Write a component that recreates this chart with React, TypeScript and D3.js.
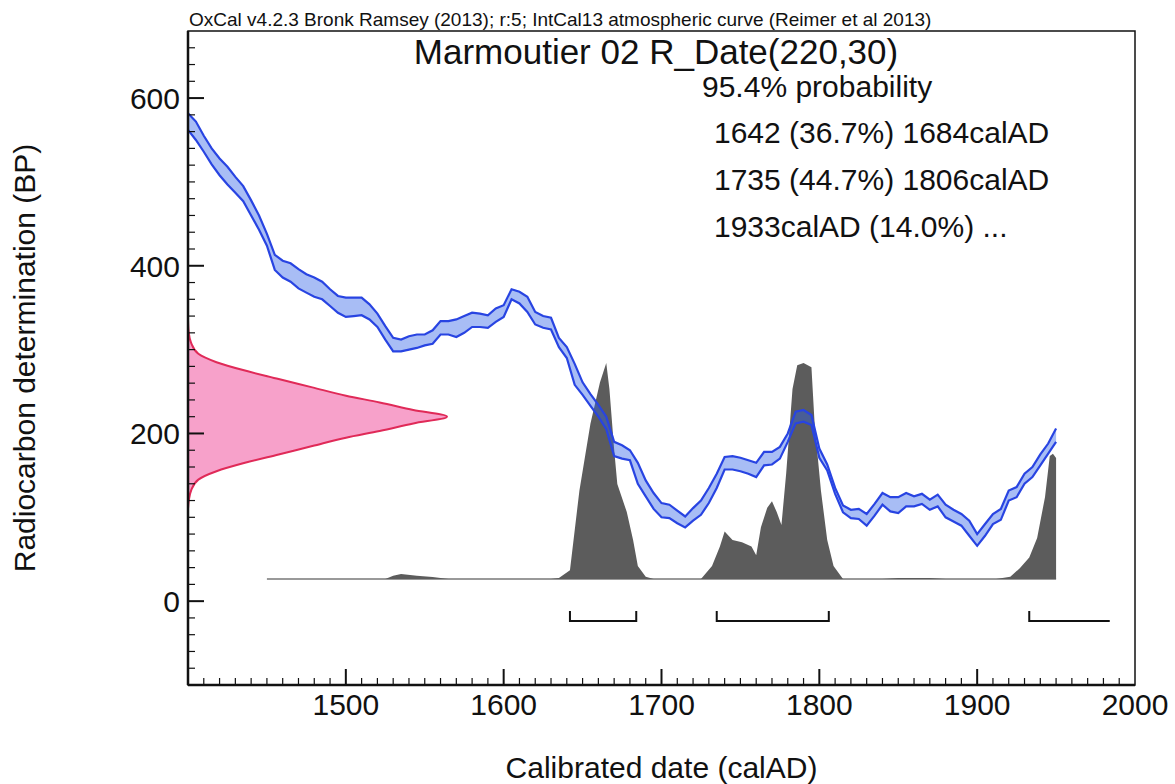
import * as d3 from "d3"

// Calibration curve (IntCal13), 1-sigma envelope, BP
const curveYears = [
  1400, 1405, 1410, 1415, 1420, 1425, 1430, 1435, 1440, 1445, 1450, 1455, 1460, 1465, 1470, 1475,
  1480, 1485, 1490, 1495, 1500, 1505, 1510, 1515, 1520, 1525, 1530, 1535, 1540, 1545, 1550, 1555,
  1560, 1565, 1570, 1575, 1580, 1585, 1590, 1595, 1600, 1605, 1610, 1615, 1620, 1625, 1630, 1635,
  1640, 1645, 1650, 1655, 1660, 1665, 1670, 1675, 1680, 1685, 1690, 1695, 1700, 1705, 1710, 1715,
  1720, 1725, 1730, 1735, 1740, 1745, 1750, 1755, 1760, 1765, 1770, 1775, 1780, 1785, 1790, 1795,
  1800, 1805, 1810, 1815, 1820, 1825, 1830, 1835, 1840, 1845, 1850, 1855, 1860, 1865, 1870, 1875,
  1880, 1885, 1890, 1895, 1900, 1905, 1910, 1915, 1920, 1925, 1930, 1935, 1940, 1945, 1950,
]
const curveUpper = [
  582, 572, 555, 540, 528, 518, 506, 495, 478, 460, 438, 413, 406, 403, 396, 390,
  386, 381, 372, 364, 362, 362, 362, 354, 343, 328, 314, 312, 316, 318, 318, 323,
  334, 334, 336, 340, 344, 343, 341, 349, 353, 372, 369, 363, 345, 340, 338, 314,
  303, 283, 261, 247, 234, 220, 190, 186, 180, 165, 144, 129, 117, 115, 108, 101,
  111, 120, 135, 152, 172, 173, 171, 168, 165, 178, 178, 184, 200, 226, 228, 222,
  182, 163, 135, 114, 109, 110, 104, 116, 129, 124, 124, 129, 125, 128, 121, 127,
  115, 109, 104, 96, 80, 92, 104, 110, 132, 136, 152, 160, 175, 188, 206,
]
const curveLower = [
  562, 550, 536, 521, 508, 497, 487, 477, 460, 443, 424, 395, 386, 381, 373, 368,
  363, 360, 352, 344, 339, 340, 341, 336, 327, 312, 298, 298, 300, 302, 305, 307,
  318, 318, 315, 320, 327, 327, 326, 333, 339, 360, 355, 345, 330, 326, 324, 303,
  290, 258, 246, 233, 220, 205, 173, 170, 168, 140, 125, 110, 100, 99, 93, 88,
  96, 103, 117, 135, 157, 157, 155, 152, 148, 162, 163, 170, 190, 212, 214, 210,
  171, 156, 128, 106, 99, 98, 90, 102, 115, 107, 105, 113, 113, 116, 109, 113,
  100, 95, 90, 78, 66, 78, 92, 97, 120, 124, 140, 148, 162, 176, 190,
]

// Posterior (calibrated) probability, % of maximum
const postYears = [
  1450, 1525, 1530, 1535, 1545, 1555, 1565, 1630, 1635, 1642, 1648, 1655, 1661, 1665, 1667, 1670,
  1672, 1678, 1682, 1685, 1690, 1695, 1725, 1732, 1737, 1740, 1745, 1751, 1757, 1760, 1763, 1767,
  1770, 1773, 1776, 1779, 1783, 1786, 1790, 1795, 1797, 1801, 1805, 1809, 1815, 1840, 1850, 1860,
  1870, 1880, 1912, 1921, 1927, 1933, 1938, 1943, 1946, 1948, 1950,
]
const postProb = [
  0, 0, 1.5, 2.3, 1.5, 0.9, 0, 0, 0.5, 4, 41, 72, 91, 100, 88, 60,
  44, 31, 18, 6, 1, 0, 0, 6, 15, 22, 18, 17, 15, 11, 24, 33,
  36, 31, 25, 49, 88, 99, 100, 98, 72, 41, 18, 6, 0, 0, 0.5, 0.5,
  0.5, 0, 0, 1, 5, 10, 19, 38, 57, 58, 56,
]

// Radiocarbon measurement R_Date(220,30), fraction of peak
const pinkBP = [335, 320, 308, 295, 285, 275, 265, 255, 245, 237, 228, 220, 212, 203, 195, 185, 175, 165, 155, 145, 132, 120, 110]
const pinkProb = [0, 0.003, 0.012, 0.04, 0.11, 0.22, 0.35, 0.48, 0.61, 0.74, 0.87, 1, 0.87, 0.74, 0.61, 0.48, 0.35, 0.22, 0.11, 0.04, 0.012, 0.003, 0]

// 95.4% ranges
const rangeFrom = [1642, 1735, 1933]
const rangeTo = [1684, 1806, 1984]
const rangeOpenEnd = [false, false, true]

const xLabels = [1500, 1600, 1700, 1800, 1900, 2000]
const yLabels = [0, 200, 400, 600]
const resultLines = ["1642 (36.7%) 1684calAD", "1735 (44.7%) 1806calAD", "1933calAD (14.0%) ..."]

const W = 1175
const H = 784
const L = 188
const R = 1135
const T = 31
const B = 685
const FONT = "'Liberation Sans', Arial, Helvetica, sans-serif"

export default function App() {
  const x = d3.scaleLinear().domain([1400, 2000]).range([L, R])
  const y = d3.scaleLinear().domain([-100, 680]).range([B, T])
  const yPost = d3.scaleLinear().domain([0, 100]).range([579, 363])
  const xPink = d3.scaleLinear().domain([0, 1]).range([L, 447])

  const curve = curveYears.map((yr, i) => ({ yr, hi: curveUpper[i], lo: curveLower[i] }))
  const band = d3.area<{ yr: number; hi: number; lo: number }>()
    .x((d) => x(d.yr)).y0((d) => y(d.lo)).y1((d) => y(d.hi))
  const hiLine = d3.line<{ yr: number; hi: number; lo: number }>().x((d) => x(d.yr)).y((d) => y(d.hi))
  const loLine = d3.line<{ yr: number; hi: number; lo: number }>().x((d) => x(d.yr)).y((d) => y(d.lo))

  const post = postYears.map((yr, i) => ({ yr, p: postProb[i] }))
  const postArea = d3.area<{ yr: number; p: number }>()
    .x((d) => x(d.yr)).y0(yPost(0)).y1((d) => yPost(d.p))

  const pink = pinkBP.map((bp, i) => ({ bp, p: pinkProb[i] }))
  const pinkArea = d3.area<{ bp: number; p: number }>()
    .y((d) => y(d.bp)).x0(L).x1((d) => xPink(d.p)).curve(d3.curveMonotoneY)
  const pinkLine = d3.line<{ bp: number; p: number }>()
    .y((d) => y(d.bp)).x((d) => xPink(d.p)).curve(d3.curveMonotoneY)

  const xMinor = d3.range(1410, 2000, 10)
  const yMinor = d3.range(-80, 680, 20)

  const bracketY = 621

  return (
    <svg width={W} height={H} style={{ position: "absolute", left: 0, top: 0, background: "#fff" }} fontFamily={FONT}>
      <rect width={W} height={H} fill="#fff" />
      <text x={189} y={26} fontSize={19} fill="#111">
        OxCal v4.2.3 Bronk Ramsey (2013); r:5; IntCal13 atmospheric curve (Reimer et al 2013)
      </text>

      {/* measurement on the y axis */}
      <path d={pinkArea(pink) || ""} fill="#f7a1ca" />
      <path d={pinkLine(pink) || ""} fill="none" stroke="#e02a58" strokeWidth={2} />

      {/* posterior */}
      <line x1={x(1450)} x2={x(1950)} y1={yPost(0)} y2={yPost(0)} stroke="#777" strokeWidth={1.5} />
      <path d={postArea(post) || ""} fill="#5c5c5c" />

      {/* calibration curve */}
      <path d={band(curve) || ""} fill="#3062e6" fillOpacity={0.42} />
      <path d={hiLine(curve) || ""} fill="none" stroke="#2844e2" strokeWidth={2.2} />
      <path d={loLine(curve) || ""} fill="none" stroke="#2844e2" strokeWidth={2.2} />

      {/* range brackets */}
      {rangeFrom.map((f, i) => (
        <path
          key={f}
          stroke="#111"
          strokeWidth={2}
          fill="none"
          d={`M${x(f)},${bracketY - 10}V${bracketY}H${x(rangeTo[i])}` + (rangeOpenEnd[i] ? "" : `V${bracketY - 10}`)}
        />
      ))}

      {/* frame */}
      <rect x={L} y={T} width={R - L} height={B - T} fill="none" stroke="#111" strokeWidth={1.5} />
      <line x1={L} x2={L} y1={T} y2={B} stroke="#111" strokeWidth={2.5} />
      <line x1={L} x2={R} y1={B} y2={B} stroke="#111" strokeWidth={2.5} />

      {/* x ticks */}
      {xMinor.map((v) => (
        <line key={v} x1={x(v)} x2={x(v)} y1={B} y2={B - (v % 100 === 0 ? 16 : 7)} stroke="#111" strokeWidth={v % 100 === 0 ? 2 : 1.2} />
      ))}
      {xLabels.map((v) => (
        <text key={v} x={x(v)} y={715} fontSize={30} textAnchor="middle" fill="#111">{v}</text>
      ))}

      {/* y ticks */}
      {yMinor.map((v) => (
        <line key={v} x1={L} x2={L + (v % 200 === 0 ? 16 : 7)} y1={y(v)} y2={y(v)} stroke="#111" strokeWidth={v % 200 === 0 ? 2 : 1.2} />
      ))}
      {yLabels.map((v) => (
        <text key={v} x={180} y={y(v) + 11} fontSize={30} textAnchor="end" fill="#111">{v}</text>
      ))}

      {/* axis titles */}
      <text x={(L + R) / 2} y={778} fontSize={30} textAnchor="middle" fill="#111">Calibrated date (calAD)</text>
      <text transform={`translate(35,${(T + B) / 2}) rotate(-90)`} fontSize={30} textAnchor="middle" fill="#111">
        Radiocarbon determination (BP)
      </text>

      {/* title and results */}
      <text x={656} y={64} fontSize={35} textAnchor="middle" fill="#111">Marmoutier 02 R_Date(220,30)</text>
      <text x={702} y={97} fontSize={30} fill="#111">95.4% probability</text>
      {resultLines.map((s, i) => (
        <text key={s} x={714} y={143 + i * 47} fontSize={30} fill="#111">{s}</text>
      ))}
    </svg>
  )
}
